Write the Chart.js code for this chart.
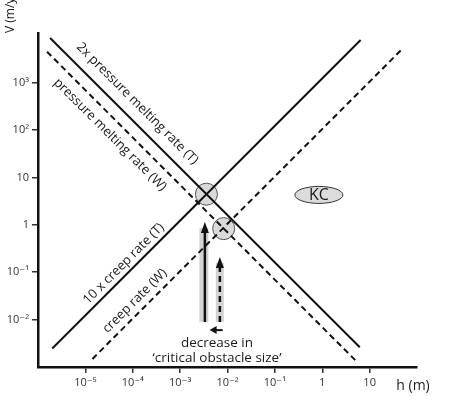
<!DOCTYPE html>
<html>
<head>
<meta charset="utf-8">
<script src="https://cdn.jsdelivr.net/npm/chart.js@4"></script>
<style>
  body { margin: 0; background: #fff; }
  canvas { display: block; }
</style>
</head>
<body>
<canvas id="chart" width="462" height="396"></canvas>
<script>
// tick positions and labels
const xTicks = [1e-5, 1e-4, 1e-3, 1e-2, 1e-1, 1, 10];
const xTickLabels = ['10⁻⁵', '10⁻⁴', '10⁻³', '10⁻²', '10⁻¹', '1', '10'];
const yTicks = [1e-2, 1e-1, 1, 10, 1e2, 1e3];
const yTickLabels = ['10⁻²', '10⁻¹', '1', '10', '10²', '10³'];

// rate lines, [h, V] end points
const pressure2xT = [[1.8e-6, 8700], [6.2, 0.0026]];
const pressureW   = [[1.55e-6, 4470], [5.25, 0.00132]];
const creep10xT   = [[2.0e-6, 0.00245], [6.46, 7940]];
const creepW      = [[1.41e-5, 0.00148], [45.7, 4790]];

// intersections (circled)
const crossings = [[0.00359, 4.42], [0.0083, 0.83]];

// vertical arrows: h, from V, to V
const arrowH    = [0.00333, 0.0069];
const arrowFrom = [0.0089, 0.0089];
const arrowTo   = [1.15, 0.21];
const arrowDash = [false, true];

// text labels along the lines: text, h, V, angle (deg)
const lineLabels = [
  ['2x pressure melting rate (T)', 1.245e-4, 359, 45],
  ['pressure melting rate (W)', 3.31e-5, 79.4, 45],
  ['10 x creep rate (T)', 6.46e-5, 0.151, -45],
  ['creep rate (W)', 1.11e-4, 0.0248, -45]
];

const kcPos = [0.85, 4.27];
const noteText = ['decrease in', '\u2018critical obstacle size\u2019'];
const notePos = [[0.006, 0.0032], [0.006, 0.00155]];
const noteArrow = [[0.0079, 0.0060], [0.0042, 0.0060]];

const FONT = '"Open Sans", "DejaVu Sans", sans-serif';
const pts = a => a.map(p => ({ x: p[0], y: p[1] }));

const annot = {
  id: 'annot',
  beforeDatasetsDraw(chart) {
    const { ctx, scales: { x, y } } = chart;
    ctx.save();
    ctx.fillStyle = 'rgba(200,200,200,0.8)';
    arrowH.forEach((h, i) => {
      const px = x.getPixelForValue(h);
      const y0 = y.getPixelForValue(arrowFrom[i]);
      const y1 = y.getPixelForValue(arrowTo[i]) + 6;
      const w = arrowDash[i] ? 8 : 9;
      ctx.fillRect(px - w / 2 - (arrowDash[i] ? 0 : 1), y1, w, y0 - y1);
    });
    ctx.restore();
  },
  afterDatasetsDraw(chart) {
    const { ctx, scales: { x, y } } = chart;
    ctx.save();
    // vertical arrows
    arrowH.forEach((h, i) => {
      const px = x.getPixelForValue(h);
      const y0 = y.getPixelForValue(arrowFrom[i]);
      const y1 = y.getPixelForValue(arrowTo[i]);
      ctx.strokeStyle = '#111';
      ctx.lineWidth = 2.5;
      ctx.setLineDash(arrowDash[i] ? [6, 4] : []);
      ctx.beginPath();
      ctx.moveTo(px, y0);
      ctx.lineTo(px, y1 + 8);
      ctx.stroke();
      ctx.setLineDash([]);
      ctx.fillStyle = '#111';
      ctx.beginPath();
      ctx.moveTo(px, y1);
      ctx.lineTo(px - 4, y1 + 11);
      ctx.lineTo(px + 4, y1 + 11);
      ctx.closePath();
      ctx.fill();
    });
    // small left arrow
    const ax0 = x.getPixelForValue(noteArrow[0][0]);
    const ax1 = x.getPixelForValue(noteArrow[1][0]);
    const ay = y.getPixelForValue(noteArrow[0][1]);
    ctx.lineWidth = 2;
    ctx.beginPath();
    ctx.moveTo(ax0, ay);
    ctx.lineTo(ax1 + 5, ay);
    ctx.stroke();
    ctx.beginPath();
    ctx.moveTo(ax1, ay);
    ctx.lineTo(ax1 + 7, ay - 4);
    ctx.lineTo(ax1 + 7, ay + 4);
    ctx.closePath();
    ctx.fill();

    // line labels
    ctx.fillStyle = '#1a1a1a';
    ctx.font = '13px ' + FONT;
    ctx.textAlign = 'center';
    ctx.textBaseline = 'middle';
    lineLabels.forEach(([t, h, v, a]) => {
      ctx.save();
      ctx.translate(x.getPixelForValue(h), y.getPixelForValue(v));
      ctx.rotate(a * Math.PI / 180);
      ctx.fillText(t, 0, 0);
      ctx.restore();
    });

    // KC ellipse
    const kx = x.getPixelForValue(kcPos[0]);
    const ky = y.getPixelForValue(kcPos[1]);
    ctx.beginPath();
    ctx.ellipse(kx, ky, 24, 8.5, 0, 0, Math.PI * 2);
    ctx.fillStyle = '#dcdcdc';
    ctx.fill();
    ctx.lineWidth = 1;
    ctx.strokeStyle = '#333';
    ctx.stroke();
    ctx.fillStyle = '#1a1a1a';
    ctx.font = '16px ' + FONT;
    ctx.fillText('KC', kx, ky + 1);

    // note under arrows
    ctx.font = '13.5px ' + FONT;
    noteText.forEach((t, i) => {
      ctx.fillText(t, x.getPixelForValue(notePos[i][0]), y.getPixelForValue(notePos[i][1]));
    });

    // axis titles
    const ca = chart.chartArea;
    ctx.font = '14px ' + FONT;
    ctx.fillText('h (m)', ca.right - 4, 386);
    ctx.save();
    ctx.translate(11, ca.top);
    ctx.rotate(-Math.PI / 2);
    ctx.textAlign = 'left';
    ctx.font = '12px ' + FONT;
    ctx.fillText('V (m/yr)', 0, 0);
    ctx.restore();
    ctx.restore();
  }
};

const lineStyle = (data, dashed) => ({
  type: 'line', data: pts(data), showLine: true, pointRadius: 0,
  borderColor: '#111', borderWidth: 2, borderDash: dashed ? [6, 4] : [],
  fill: false, order: 1
});

new Chart(document.getElementById('chart'), {
  type: 'scatter',
  data: {
    datasets: [
      lineStyle(pressure2xT, false),
      lineStyle(pressureW, true),
      lineStyle(creep10xT, false),
      lineStyle(creepW, true),
      { data: pts(crossings), pointRadius: 11, pointHoverRadius: 11,
        backgroundColor: 'rgba(205,205,205,0.75)', borderColor: '#555', borderWidth: 1, order: 5 }
    ]
  },
  options: {
    responsive: false,
    animation: false,
    layout: { padding: { left: 0, right: 45, top: 33, bottom: 0 } },
    plugins: { legend: { display: false }, tooltip: { enabled: false } },
    scales: {
      x: {
        type: 'logarithmic', min: 1e-6, max: 1e2,
        afterFit(s) { s.height = 29; },
        afterBuildTicks(s) { s.ticks = xTicks.map(v => ({ value: v })); },
        ticks: { autoSkip: false, maxRotation: 0, padding: 3, color: '#333',
          font: { family: FONT, size: 11 }, callback: (v, i) => xTickLabels[i] },
        grid: { drawOnChartArea: false, drawTicks: true, tickLength: 6, color: '#333', lineWidth: 1.5 },
        border: { color: '#111', width: 2.5 }
      },
      y: {
        type: 'logarithmic', min: 1e-3, max: Math.pow(10, 4.046),
        afterFit(s) { s.width = 38; },
        afterBuildTicks(s) { s.ticks = yTicks.map(v => ({ value: v })); },
        ticks: { autoSkip: false, padding: 3, color: '#333',
          font: { family: FONT, size: 11 }, callback: (v, i) => yTickLabels[i] },
        grid: { drawOnChartArea: false, drawTicks: true, tickLength: 6, color: '#333', lineWidth: 1.5 },
        border: { color: '#111', width: 2.5 }
      }
    }
  },
  plugins: [annot]
});
</script>
</body>
</html>
